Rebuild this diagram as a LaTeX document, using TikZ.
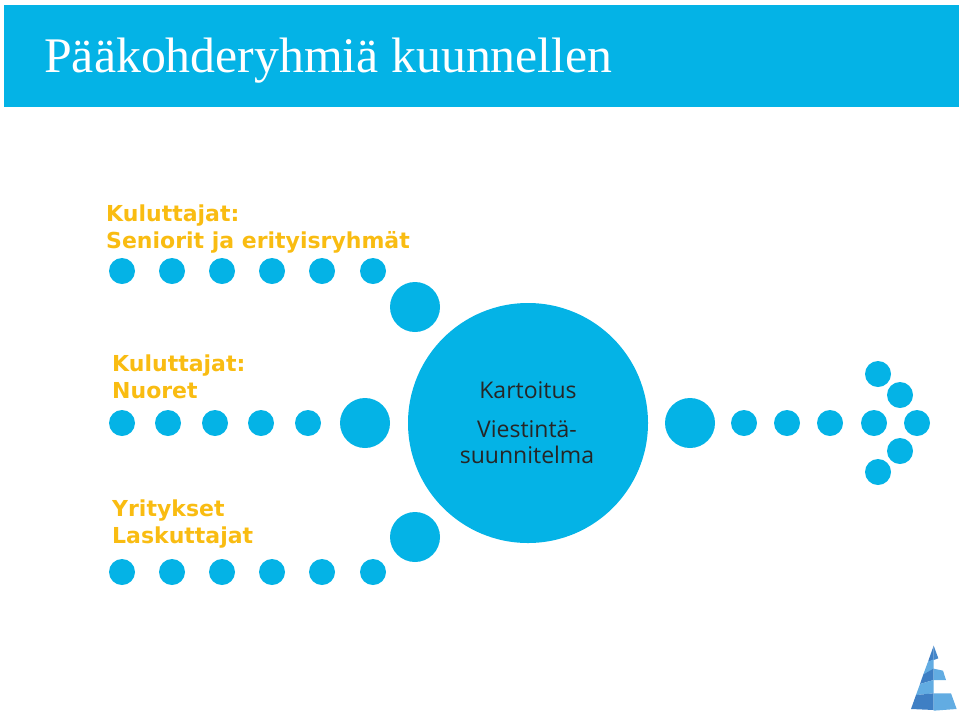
\documentclass[tikz,border=0pt]{standalone}
\usepackage{fontspec}
\setmainfont{Liberation Serif}
\newfontfamily\lab{Open Sans}
\newfontfamily\labb{DejaVu Sans}
\definecolor{cy}{HTML}{04B3E6}
\definecolor{gold}{HTML}{F9BC12}
\definecolor{pd}{HTML}{3F7FC4}
\definecolor{pl}{HTML}{62ACE2}
\tikzset{
 sdot/.style={circle,fill=cy,minimum size=26pt,inner sep=0pt,outer sep=0pt},
 bdot/.style={circle,fill=cy,minimum size=50pt,inner sep=0pt,outer sep=0pt},
 glabel/.style={anchor=west,text=gold,align=left,inner sep=0pt,font=\labb\bfseries\fontsize{22}{27}\selectfont},
 clabel/.style={text=black!85,inner sep=0pt,font=\lab\fontsize{23}{26}\selectfont,align=center}
}
\begin{document}
\begin{tikzpicture}[x=1pt,y=-1pt]
\useasboundingbox (0,0) rectangle (960,713);
\fill[cy] (4,5) rectangle (959,107);
\node[anchor=base west,text=white,inner sep=0pt,font=\fontsize{49.8}{54}\selectfont] (title) at (44,72) {Pääkohderyhmiä kuunnellen};
\node[glabel] (l1) at (106,229) {Kuluttajat:\\Seniorit ja erityisryhmät};
\node[glabel] (l2) at (112,377) {Kuluttajat:\\Nuoret};
\node[glabel] (l3) at (112,524) {Yritykset\\Laskuttajat};
\foreach \x [count=\i] in {122,172,222,272,322,373} {
 \node[sdot] (a\i) at (\x,271) {};
 \node[sdot] (c\i) at (\x,572) {};
}
\foreach \x [count=\i] in {122,168,215,261,308} \node[sdot] (b\i) at (\x,423) {};
\node[bdot] (A) at (415,307) {};
\node[bdot] (B) at (365,423) {};
\node[bdot] (C) at (415,537) {};
\node[circle,fill=cy,minimum size=240pt,inner sep=0pt] (hub) at (528,423) {};
\node[clabel] (k) at (528,390) {Kartoitus};
\node[clabel] (v) at (527,442) {Viestintä-\\suunnitelma};
\node[bdot] (D) at (690,423) {};
\foreach \x [count=\i] in {744,787,830,874,917} \node[sdot] (r\i) at (\x,423) {};
\node[sdot] (t1) at (878,374) {};
\node[sdot] (t2) at (900,395) {};
\node[sdot] (u1) at (900,451) {};
\node[sdot] (u2) at (878,472) {};
% pyramid
\begin{scope}[shift={(890,630)},x=0.3333pt,y=-0.3333pt]
\fill[pd] (131,47) -- (131,90) -- (114,95) -- cycle;
\fill[pd!80!pl] (131,47) -- (145,85) -- (131,90) -- cycle;
\fill[pl] (114,95) -- (131,88) -- (131,118) -- (100,133) -- cycle;
\fill[pd] (100,133) -- (131,116) -- (131,150) -- (90,162) -- cycle;
\fill[pl] (131,116) -- (159,122) -- (168,150) -- (131,150) -- cycle;
\fill[pl] (90,162) -- (131,150) -- (131,190) -- (78,195) -- cycle;
\fill[pd] (78,195) -- (131,190) -- (131,240) -- (63,237) -- cycle;
\fill[pl] (131,190) -- (183,190) -- (200,237) -- (131,242) -- cycle;
\end{scope}
\end{tikzpicture}
\end{document}
